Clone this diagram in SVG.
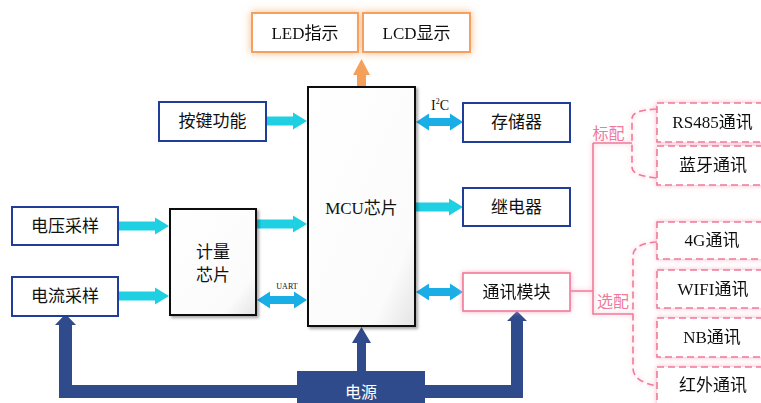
<svg xmlns="http://www.w3.org/2000/svg" width="761" height="403" viewBox="0 0 761 403">
<defs>
<style>
.t{font-family:"Liberation Serif","Noto Sans CJK SC",serif;font-size:17px;fill:#111;text-anchor:middle;dominant-baseline:central}
.blue{fill:#fff;stroke:#1f3d99;stroke-width:2}
.chip{stroke:#111;stroke-width:2;fill:url(#chipg)}
.org{fill:#fff;stroke:#f4a060;stroke-width:2}
.pk{fill:#fff;stroke:#f07a9a;stroke-width:1.6}
.pkd{fill:#fff;stroke:#f07a9a;stroke-width:1.6;stroke-dasharray:7 4}
.pl{fill:none;stroke:#f07a9a;stroke-width:1.6}
.pld{fill:none;stroke:#f07a9a;stroke-width:1.6;stroke-dasharray:7 4}
.cy{fill:#1fd0e3}
.sky{fill:#1aaee6}
.pw{fill:#304b8b}
.pt{font-family:"Liberation Serif","Noto Sans CJK SC",serif;font-size:16px;fill:#f07a9a;text-anchor:middle;dominant-baseline:central}
</style>
<filter id="glowO" x="-25%" y="-50%" width="150%" height="200%">
<feGaussianBlur in="SourceAlpha" stdDeviation="4" result="b"/>
<feFlood flood-color="#f6a868" flood-opacity="0.8"/>
<feComposite in2="b" operator="in" result="g"/>
<feMerge><feMergeNode in="g"/><feMergeNode in="SourceGraphic"/></feMerge>
</filter>
<filter id="glowP" x="-20%" y="-40%" width="140%" height="180%">
<feGaussianBlur in="SourceAlpha" stdDeviation="2.8" result="b"/>
<feFlood flood-color="#f7a0b8" flood-opacity="0.8"/>
<feComposite in2="b" operator="in" result="g"/>
<feMerge><feMergeNode in="g"/><feMergeNode in="SourceGraphic"/></feMerge>
</filter>
<filter id="sh" x="-10%" y="-10%" width="130%" height="130%">
<feGaussianBlur in="SourceAlpha" stdDeviation="1.5" result="b"/>
<feOffset dx="1.5" dy="1.5" result="o"/>
<feFlood flood-color="#000" flood-opacity="0.35"/>
<feComposite in2="o" operator="in" result="g"/>
<feMerge><feMergeNode in="g"/><feMergeNode in="SourceGraphic"/></feMerge>
</filter>
<linearGradient id="chipg" x1="0" y1="0" x2="1" y2="1">
<stop offset="0" stop-color="#ffffff"/>
<stop offset="0.8" stop-color="#fbfbfb"/>
<stop offset="1" stop-color="#e4e4e4"/>
</linearGradient>
</defs>

<g id="connectors">
<polygon fill="#f5a05a" points="357,87 357,75 353,75 361.5,59 370,75 366,75 366,87"/>
<polygon class="cy" points="267,116.5 293,116.5 293,112.5 307,121 293,129.5 293,125.5 267,125.5"/>
<polygon class="cy" points="118,221.5 155,221.5 155,217.5 169,226 155,234.5 155,230.5 118,230.5"/>
<polygon class="cy" points="118,291.5 155,291.5 155,287.5 169,296 155,304.5 155,300.5 118,300.5"/>
<polygon class="cy" points="257,219.5 293,219.5 293,215.5 307,224 293,232.5 293,228.5 257,228.5"/>
<polygon class="cy" points="416,202.5 449,202.5 449,198.5 463,207 449,215.5 449,211.5 416,211.5"/>
<polygon class="sky" points="416,122 429,113.5 429,118 450,118 450,113.5 463,122 450,130.5 450,126 429,126 429,130.5"/>
<polygon class="sky" points="257,300 270,291.5 270,296 294,296 294,291.5 307,300 294,308.5 294,304 270,304 270,308.5"/>
<polygon class="sky" points="416,292 429,283.5 429,288 450,288 450,283.5 463,292 450,300.5 450,296 429,296 429,300.5"/>
<polygon class="pw" points="59,325 55,325 65.5,314 76,325 72,325 72,385 300,385 300,398 59,398"/>
<polygon class="pw" points="357,372 357,343 352,343 361.5,327 371,343 366,343 366,372"/>
<polygon class="pw" points="420,385 511,385 511,321 507,321 517,311 527,321 523,321 523,398 420,398"/>
<g filter="url(#glowP)">
<path class="pl" d="M570,291 H593 M593,143 V314 H633 M593,143 H632"/>
<path class="pld" d="M657,109 C641,110 632,112 632,119 L632,167 C632,174 641,176 657,178"/>
<path class="pld" d="M657,242 C642,243 633,247 633,256 L633,368 C633,377 641,383 657,386"/>
</g>
<text class="pt" x="608.5" y="133">标配</text>
<text class="pt" x="613" y="301">选配</text>
<text x="440" y="110" font-family="Liberation Serif,serif" font-size="14" fill="#111" text-anchor="middle">I<tspan font-size="8" dy="-6">2</tspan><tspan dy="6">C</tspan></text>
<text x="287" y="289" font-family="Liberation Serif,serif" font-size="8" fill="#111" text-anchor="middle">UART</text>
</g>

<g id="led" filter="url(#glowO)"><rect class="org" x="252" y="13" width="106" height="39"/><text class="t" x="305" y="33">LED指示</text></g>
<g id="lcd" filter="url(#glowO)"><rect class="org" x="363" y="13" width="107" height="39"/><text class="t" x="416.5" y="33">LCD显示</text></g>

<g id="mcu"><rect class="chip" x="308" y="87" width="107" height="239" filter="url(#sh)"/><text class="t" x="361.5" y="208">MCU芯片</text></g>

<g id="jiliang"><rect class="chip" x="170" y="209" width="86" height="106" filter="url(#sh)"/><text class="t" x="213" y="252">计量</text><text class="t" x="213" y="275">芯片</text></g>

<g id="anjian"><rect class="blue" x="159" y="102" width="107" height="39"/><text class="t" x="212.5" y="121.5">按键功能</text></g>
<g id="cunchu"><rect class="blue" x="463" y="103" width="107" height="39"/><text class="t" x="516.5" y="122.5">存储器</text></g>
<g id="jidian"><rect class="blue" x="463" y="188" width="107" height="38"/><text class="t" x="516.5" y="207">继电器</text></g>
<g id="dianya"><rect class="blue" x="12" y="207" width="106" height="38"/><text class="t" x="65" y="226">电压采样</text></g>
<g id="dianliu"><rect class="blue" x="12" y="277" width="106" height="39"/><text class="t" x="65" y="296.5">电流采样</text></g>

<g id="tongxun" filter="url(#glowP)"><rect class="pk" x="463" y="273" width="107" height="38"/><text class="t" x="516.5" y="292">通讯模块</text></g>

<g id="rs485" filter="url(#glowP)"><rect class="pkd" x="657" y="103" width="120" height="39"/><text class="t" x="712.5" y="122.5">RS485通讯</text></g>
<g id="lanya" filter="url(#glowP)"><rect class="pkd" x="657" y="146" width="120" height="39"/><text class="t" x="713" y="165.5">蓝牙通讯</text></g>
<g id="g4" filter="url(#glowP)"><rect class="pkd" x="657" y="222" width="120" height="37"/><text class="t" x="712" y="240.5">4G通讯</text></g>
<g id="wifi" filter="url(#glowP)"><rect class="pkd" x="657" y="270" width="120" height="38"/><text class="t" x="713" y="289">WIFI通讯</text></g>
<g id="nb" filter="url(#glowP)"><rect class="pkd" x="657" y="318" width="120" height="39"/><text class="t" x="712" y="337.5">NB通讯</text></g>
<g id="hongwai" filter="url(#glowP)"><rect class="pkd" x="657" y="367" width="120" height="45"/><text class="t" x="713" y="385">红外通讯</text></g>

<g id="dianyuan"><rect class="pw" x="297" y="371" width="128" height="40"/><text x="361" y="391" font-family="Noto Sans CJK SC,sans-serif" font-size="16" fill="#fff" text-anchor="middle" dominant-baseline="central">电源</text></g>
</svg>
